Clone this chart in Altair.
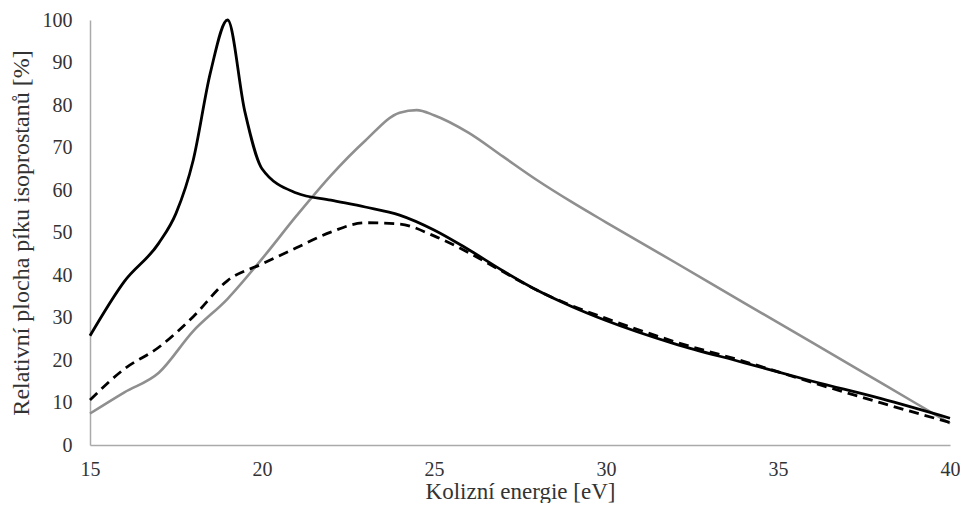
import altair as alt
import pandas as pd

# Solid black series
black_x = [15, 16, 17, 17.5, 18, 18.5, 19, 19.5, 20, 21, 22, 23, 24, 25, 26, 27, 28, 29, 30, 32, 34, 36, 38, 40]
black_y = [25.7, 38.5, 47.5, 54.5, 67.0, 87.6, 100.0, 78.5, 65.0, 59.3, 57.6, 56.0, 54.1, 50.6, 46.0, 41.0, 36.4, 32.6, 29.3, 23.8, 19.4, 15.0, 10.9, 6.3]

# Dashed black series
dash_x = [15, 16, 17, 18, 19, 20, 21, 22, 23, 24, 25, 26, 27, 28, 29, 30, 32, 34, 36, 38, 40]
dash_y = [10.6, 17.9, 23.0, 30.2, 38.7, 42.6, 46.4, 50.1, 52.3, 52.0, 49.2, 45.3, 40.8, 36.4, 32.8, 29.8, 24.3, 19.7, 14.7, 9.9, 5.3]

# Grey series
grey_x = [15, 16, 17, 18, 19, 20, 21, 22, 23, 24, 24.5, 25, 26, 27, 28, 29, 30, 32, 34, 36, 38, 40]
grey_y = [7.4, 12.4, 17.0, 26.8, 34.4, 43.8, 53.9, 63.4, 71.6, 78.2, 78.8, 77.6, 73.5, 67.9, 62.3, 57.2, 52.4, 43.0, 33.5, 24.1, 14.6, 5.1]

x_ticks = [15, 20, 25, 30, 35, 40]
y_ticks = [0, 10, 20, 30, 40, 50, 60, 70, 80, 90, 100]

FONT = "Liberation Serif"


def frame(xs, ys):
    return pd.DataFrame({"energie": xs, "plocha": ys})


x_enc = alt.X(
    "energie:Q",
    scale=alt.Scale(domain=[15, 40], nice=False, zero=False),
    axis=alt.Axis(
        values=x_ticks,
        title="Kolizní energie [eV]",
        ticks=False,
        grid=False,
        labelPadding=14,
        titlePadding=1,
        labelFontSize=20,
        titleFontSize=23,
        labelFont=FONT,
        titleFont=FONT,
        labelColor="#333333",
        titleColor="#333333",
        titleFontWeight="normal",
        domainColor="#AAAAAA",
        domainWidth=1.5,
        labelFlush=False,
    ),
)
y_enc = alt.Y(
    "plocha:Q",
    scale=alt.Scale(domain=[0, 100], nice=False),
    axis=alt.Axis(
        values=y_ticks,
        title="Relativní plocha píku isoprostanů [%]",
        ticks=False,
        grid=False,
        labelPadding=18,
        titlePadding=9,
        labelFontSize=20,
        titleFontSize=24,
        labelFont=FONT,
        titleFont=FONT,
        labelColor="#333333",
        titleColor="#333333",
        titleFontWeight="normal",
        domainColor="#AAAAAA",
        domainWidth=1.5,
        labelFlush=False,
    ),
)

grey = alt.Chart(frame(grey_x, grey_y)).mark_line(
    color="#8F8F8F", strokeWidth=2.6, interpolate="monotone"
).encode(x=x_enc, y=y_enc)

dashed = alt.Chart(frame(dash_x, dash_y)).mark_line(
    color="#000000", strokeWidth=2.8, strokeDash=[10, 6], interpolate="monotone"
).encode(x=x_enc, y=y_enc)

black = alt.Chart(frame(black_x, black_y)).mark_line(
    color="#000000", strokeWidth=2.8, interpolate="monotone"
).encode(x=x_enc, y=y_enc)

chart = (
    alt.layer(grey, dashed, black)
    .properties(
        width=860,
        height=425,
        autosize=alt.AutoSizeParams(type="none"),
        padding={"left": 82, "top": 12, "right": 10, "bottom": 58},
        background="white",
    )
    .configure_view(stroke=None)
)

chart.save("out.html", embed_options={"renderer": "svg", "actions": False})
